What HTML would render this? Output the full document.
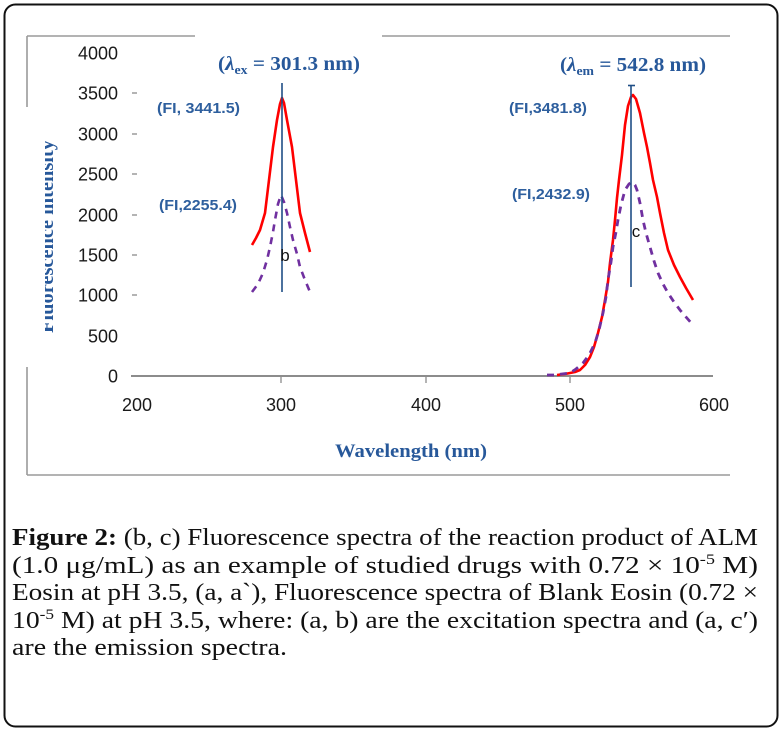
<!DOCTYPE html>
<html>
<head>
<meta charset="utf-8">
<style>
  html, body { margin:0; padding:0; background:#fff; }
  svg { display:block; }
</style>
</head>
<body>
<svg width="781" height="731" viewBox="0 0 781 731" xmlns="http://www.w3.org/2000/svg">
  <!-- outer rounded border -->
  <rect x="4.5" y="4.5" width="773" height="722" rx="11" ry="11" fill="#fff" stroke="#111" stroke-width="2"/>

  <!-- chart frame (gray) -->
  <g stroke="#9a9a9a" stroke-width="1.6" fill="none">
    <line x1="27" y1="36" x2="195" y2="36"/>
    <line x1="382" y1="36" x2="730" y2="36"/>
    <line x1="27" y1="36" x2="27" y2="107"/>
    <line x1="27" y1="367" x2="27" y2="475"/>
    <line x1="27" y1="475" x2="730" y2="475"/>
  </g>

  <!-- y axis title (clipped) -->
  <defs>
    <clipPath id="yclip"><rect x="45" y="120" width="30" height="240"/></clipPath>
  </defs>
  <g clip-path="url(#yclip)">
    <text transform="translate(53,333) rotate(-90)" x="0" y="0" font-family="Liberation Serif, serif" font-weight="bold" font-size="19.5" fill="#27589a" textLength="193" lengthAdjust="spacingAndGlyphs">Fluorescence intensity</text>
  </g>

  <!-- y tick labels -->
  <g font-family="Liberation Sans, sans-serif" font-size="18" fill="#1a1a1a" text-anchor="end">
    <text x="118" y="59.5">4000</text>
    <text x="118" y="99.5">3500</text>
    <text x="118" y="140.5">3000</text>
    <text x="118" y="180.5">2500</text>
    <text x="118" y="221.5">2000</text>
    <text x="118" y="261.5">1500</text>
    <text x="118" y="301.5">1000</text>
    <text x="118" y="342.5">500</text>
    <text x="118" y="382.5">0</text>
  </g>
  <g stroke="#8c8c8c" stroke-width="1.3">
    <line x1="132" y1="93" x2="137" y2="93"/>
    <line x1="132" y1="134" x2="137" y2="134"/>
    <line x1="132" y1="174" x2="137" y2="174"/>
    <line x1="132" y1="215" x2="137" y2="215"/>
    <line x1="132" y1="255" x2="137" y2="255"/>
    <line x1="132" y1="295" x2="137" y2="295"/>
  </g>

  <!-- x axis -->
  <line x1="131" y1="376" x2="713" y2="376" stroke="#8c8c8c" stroke-width="2"/>
  <g stroke="#8c8c8c" stroke-width="1.3">
    <line x1="281" y1="377" x2="281" y2="383"/>
    <line x1="426" y1="377" x2="426" y2="383"/>
    <line x1="570" y1="377" x2="570" y2="383"/>
  </g>
  <g font-family="Liberation Sans, sans-serif" font-size="18" fill="#1a1a1a" text-anchor="middle">
    <text x="137" y="411">200</text>
    <text x="281" y="411">300</text>
    <text x="426" y="411">400</text>
    <text x="570" y="411">500</text>
    <text x="714" y="411">600</text>
  </g>

  <!-- x axis title -->
  <text x="335" y="457" font-family="Liberation Serif, serif" font-weight="bold" font-size="19" fill="#27589a" textLength="152" lengthAdjust="spacingAndGlyphs">Wavelength (nm)</text>

  <!-- annotations -->
  <text x="218" y="70" font-family="Liberation Serif, serif" font-weight="bold" font-size="20" fill="#27589a" textLength="142" lengthAdjust="spacingAndGlyphs">(<tspan font-style="italic">λ</tspan><tspan font-size="13" dy="4">ex</tspan><tspan dy="-4"> = 301.3 nm)</tspan></text>
  <text x="560" y="71" font-family="Liberation Serif, serif" font-weight="bold" font-size="20" fill="#27589a" textLength="146" lengthAdjust="spacingAndGlyphs">(<tspan font-style="italic">λ</tspan><tspan font-size="13" dy="4">em</tspan><tspan dy="-4"> = 542.8 nm)</tspan></text>

  <g font-family="Liberation Sans, sans-serif" font-weight="bold" font-size="15" fill="#2e5f9e">
    <text x="157" y="113" textLength="83" lengthAdjust="spacingAndGlyphs">(FI, 3441.5)</text>
    <text x="159" y="210" textLength="78" lengthAdjust="spacingAndGlyphs">(FI,2255.4)</text>
    <text x="509" y="113" textLength="78" lengthAdjust="spacingAndGlyphs">(FI,3481.8)</text>
    <text x="512" y="199" textLength="78" lengthAdjust="spacingAndGlyphs">(FI,2432.9)</text>
  </g>

  <!-- excitation curves -->
  <polyline fill="none" stroke="#ff0000" stroke-width="2.6" stroke-linejoin="round"
    points="252,245 256,238 260,230 265,213 269,180 273,147 277,120 280,104 282,98 284,103 287,120 292,147 296,180 300,213 305,233 310,252"/>
  <polyline fill="none" stroke="#7030a0" stroke-width="2.6" stroke-dasharray="7,6"
    points="252,292 258,284 263,273 267,260 270,247 273,232 275,220 278,204 281,195 284,202 287,213 290,227 293,240 297,254 300,267 305,280 310,292"/>

  <!-- emission curves -->
  <polyline fill="none" stroke="#ff0000" stroke-width="2.6" stroke-linejoin="round"
    points="557,375 565,374 570,373 575,372 580,370 585,365 590,357 594,347 598,333 602,317 605,300 608,282 610,263 613,240 615,220 617,198 619,180 622,155 625,125 628,106 631,97 633,95 636,99 640,113 644,133 647,147 650,163 653,180 657,197 660,213 664,233 668,250 674,265 680,277 686,288 693,300"/>
  <polyline fill="none" stroke="#7030a0" stroke-width="2.8" stroke-dasharray="7,6"
    points="547,375 555,375 562,374 570,373 576,369 583,363 589,355 595,343 599,330 603,313 606,297 608,280 611,262 613,247 616,232 618,220 621,205 625,190 629,184 632,182 635,185 637,190 640,203 643,220 646,233 650,247 654,261 658,273 663,284 668,293 674,302 680,310 686,317 693,325"/>

  <!-- vertical marker lines -->
  <g stroke="#1f4e86" stroke-width="1.6">
    <line x1="282" y1="83" x2="282" y2="292"/>
    <line x1="631" y1="85" x2="631" y2="287"/>
    <line x1="628" y1="85.5" x2="635" y2="85.5"/>
  </g>
  <g font-family="Liberation Sans, sans-serif" font-size="17" fill="#111" text-anchor="middle">
    <text x="285" y="261">b</text>
    <text x="636" y="237">c</text>
  </g>

  <!-- caption -->
  <g font-family="Liberation Serif, serif" font-size="24" fill="#111">
    <text x="12" y="545" textLength="746" lengthAdjust="spacingAndGlyphs"><tspan font-weight="bold">Figure 2:</tspan> (b, c) Fluorescence spectra of the reaction product of ALM</text>
    <text x="12" y="573" textLength="746" lengthAdjust="spacingAndGlyphs">(1.0 μg/mL) as an example of studied drugs with 0.72 × 10<tspan font-size="15" dy="-9">-5</tspan><tspan dy="9"> M)</tspan></text>
    <text x="12" y="600" textLength="746" lengthAdjust="spacingAndGlyphs">Eosin at pH 3.5, (a, a`), Fluorescence spectra of Blank Eosin (0.72 ×</text>
    <text x="12" y="628" textLength="746" lengthAdjust="spacingAndGlyphs">10<tspan font-size="15" dy="-9">-5</tspan><tspan dy="9"> M) at pH 3.5, where: (a, b) are the excitation spectra and (a, c′)</tspan></text>
    <text x="12" y="655" textLength="275" lengthAdjust="spacingAndGlyphs">are the emission spectra.</text>
  </g>
</svg>
</body>
</html>
